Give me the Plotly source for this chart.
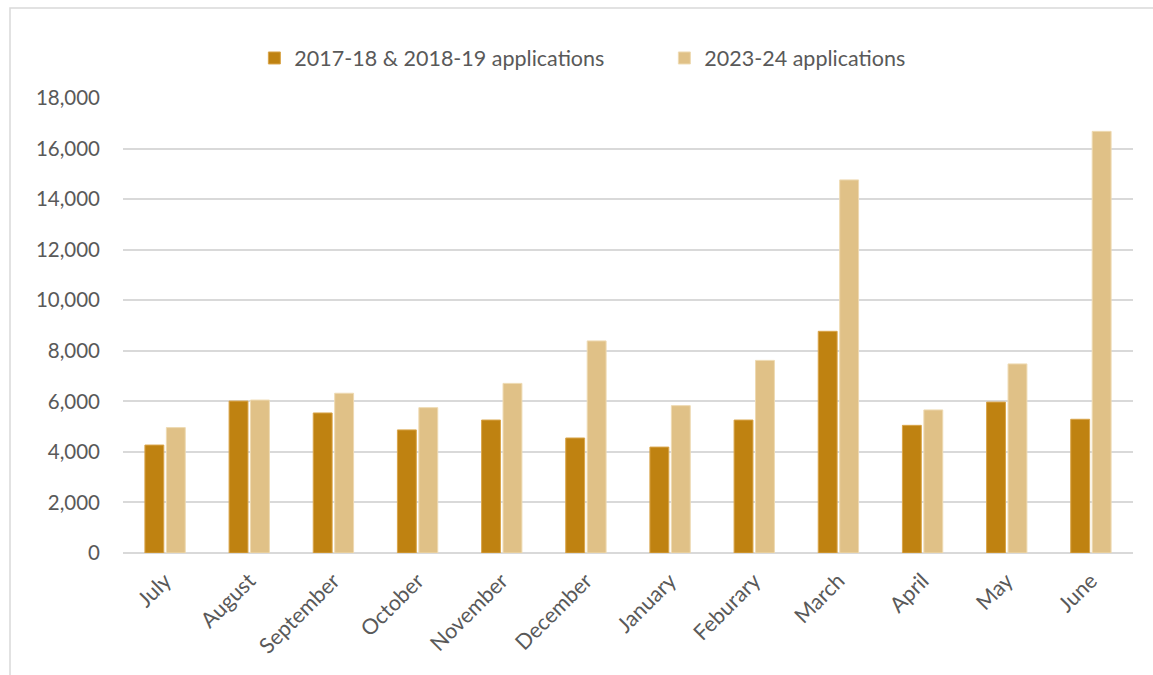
import plotly.graph_objects as go

months = ["July", "August", "September", "October", "November", "December",
          "January", "Feburary", "March", "April", "May", "June"]
baseline_apps = [4270, 6010, 5540, 4870, 5260, 4550, 4190, 5260, 8770, 5050, 5970, 5290]
recent_apps = [4960, 6050, 6320, 5750, 6710, 8390, 5830, 7620, 14760, 5660, 7480, 16680]
y_ticks = [0, 2000, 4000, 6000, 8000, 10000, 12000, 14000, 16000, 18000]

DARK = "#BF8211"
LIGHT = "#E0C187"
GRID = "#D9D9D9"
TEXT = "#595959"
FONT = "Lato, Calibri, Carlito, sans-serif"

W, H = 1153, 675
L, R, T, B = 123, 20, 98, 122

fig = go.Figure()
fig.add_trace(go.Bar(
    x=months, y=baseline_apps, name="2017-18 & 2018-19 applications",
    marker=dict(color=DARK, line=dict(color="#D9A54A", width=1)),
))
fig.add_trace(go.Bar(
    x=months, y=recent_apps, name="2023-24 applications",
    marker=dict(color=LIGHT, line=dict(color="#EEDAB2", width=1)),
))

pw = W - L - R
ph = H - T - B
# chart-area frame (left and top edges fall inside the page)
fig.add_shape(type="rect", xref="paper", yref="paper",
              x0=(10 - L) / pw, x1=(W + 20 - L) / pw,
              y0=-(H + 20 - T - ph) / ph, y1=1 + (T - 8) / ph,
              line=dict(color=GRID, width=1.5), layer="below")

fig.update_layout(
    width=W, height=H,
    margin=dict(l=L, r=R, t=T, b=B),
    paper_bgcolor="white", plot_bgcolor="white",
    barmode="group", bargap=0.49, bargroupgap=0.12,
    font=dict(family=FONT, size=20, color=TEXT),
    showlegend=True,
    legend=dict(orientation="h", x=0.536, xanchor="center", y=1 + (T - 58) / ph,
                yanchor="middle", font=dict(size=21.5, color=TEXT),
                entrywidth=365, itemwidth=30, bgcolor="rgba(0,0,0,0)"),
    xaxis=dict(tickangle=-45, showgrid=False, showline=False, ticks="",
               ticklabelstandoff=10, tickfont=dict(size=21.5, color=TEXT)),
    yaxis=dict(range=[0, 18000], tickvals=y_ticks, tickformat=",",
               showgrid=True, gridcolor=GRID, gridwidth=1.5,
               zeroline=True, zerolinecolor=GRID, zerolinewidth=1.5,
               showline=False, ticks="", ticklabelstandoff=22,
               tickfont=dict(size=20.5, color=TEXT)),
)

fig.write_html("out.html")
